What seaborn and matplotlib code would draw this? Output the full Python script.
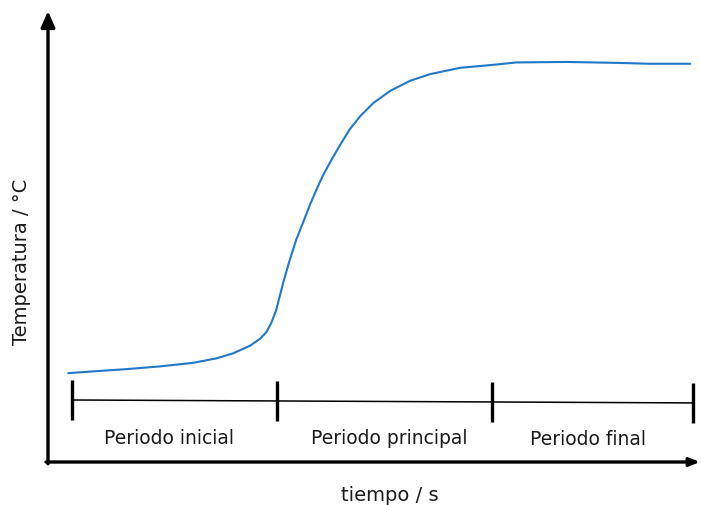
import matplotlib
matplotlib.use("Agg")
import matplotlib.pyplot as plt
import seaborn as sns
import pandas as pd

# Data (arbitrary units)
tiempo = [3.1, 7.0, 12.1, 17.2, 22.3, 25.9, 28.4, 31.0, 32.5, 33.5, 34.3, 35.0,
          36.1, 37.1, 38.1, 39.2, 40.2, 41.2, 42.2, 43.4, 44.8, 46.3, 47.9,
          49.9, 52.5, 55.5, 58.6, 63.2, 67.8, 71.9, 79.6, 87.3, 92.3, 98.5]
temperatura = [19.7, 20.1, 20.6, 21.2, 22.0, 23.0, 24.1, 25.8, 27.3, 28.8, 31.0,
               33.7, 39.9, 44.9, 49.4, 53.4, 57.1, 60.5, 63.6, 66.8, 70.3, 73.8,
               76.7, 79.6, 82.3, 84.5, 86.0, 87.4, 88.0, 88.6, 88.7, 88.5, 88.3, 88.3]

limites = [3.7, 35.1, 68.1, 98.9]          # period boundaries (time)
nivel_linea = [13.75, 13.5, 13.3, 13.1]     # baseline of the period bracket
periodos = ["Periodo inicial", "Periodo principal", "Periodo final"]
xlabel = "tiempo / s"
ylabel = "Temperatura / °C"

sns.set_theme(style="white")
plt.rcParams['font.family'] = ['DejaVu Sans']

fig = plt.figure(figsize=(7.01, 5.06), dpi=100)
W, H = 701, 506
left, right, bottom, top = 48, 700, 463, 12
ax = fig.add_axes([left / W, (H - bottom) / H, (right - left) / W, (bottom - top) / H])
ax.set_xlim(0, 100)
ax.set_ylim(0, 100)

df = pd.DataFrame({"t": tiempo, "T": temperatura})
sns.lineplot(data=df, x="t", y="T", ax=ax, color="#1f78c8", linewidth=1.5, sort=False)
for ln in ax.lines:
    ln.set_solid_joinstyle("round")

# period bracket
sns.lineplot(x=[limites[0], limites[-1]], y=[nivel_linea[0], nivel_linea[-1]], ax=ax,
             color="black", linewidth=1.1)
for xb, yb in zip(limites, nivel_linea):
    ax.plot([xb, xb], [yb - 4.5, yb + 4.5], color="black", linewidth=2.4, solid_capstyle="butt")

label_x = [18.5, 52.3, 82.8]
label_y = [5.5, 5.5, 5.1]
for xc, yc, name in zip(label_x, label_y, periodos):
    ax.text(xc, yc, name, ha="center", va="center", fontsize=13.5, color="#1a1a1a")

# axes with arrows
for s in ax.spines.values():
    s.set_visible(False)
ax.set_xticks([])
ax.set_yticks([])
ax.annotate("", xy=(0, 1.0), xytext=(0, -0.004), xycoords="axes fraction",
            arrowprops=dict(arrowstyle="-|>,head_length=0.8,head_width=0.35",
                            color="black", lw=2.4, shrinkA=0, shrinkB=0))
ax.annotate("", xy=(1.0, 0), xytext=(-0.003, 0), xycoords="axes fraction",
            arrowprops=dict(arrowstyle="-|>,head_length=0.5,head_width=0.2",
                            color="black", lw=2.4, shrinkA=0, shrinkB=0))

ax.set_xlabel(xlabel, fontsize=14, color="#1a1a1a")
ax.set_ylabel(ylabel, fontsize=14, color="#1a1a1a")
ax.xaxis.set_label_coords((390 - left) / 652, (bottom - 496) / 451)
ax.xaxis.label.set_va("center")
ax.yaxis.set_label_coords((22 - left) / 652, (bottom - 262) / 451)
ax.yaxis.label.set_va("center")

fig.savefig("out.png", dpi=100)
